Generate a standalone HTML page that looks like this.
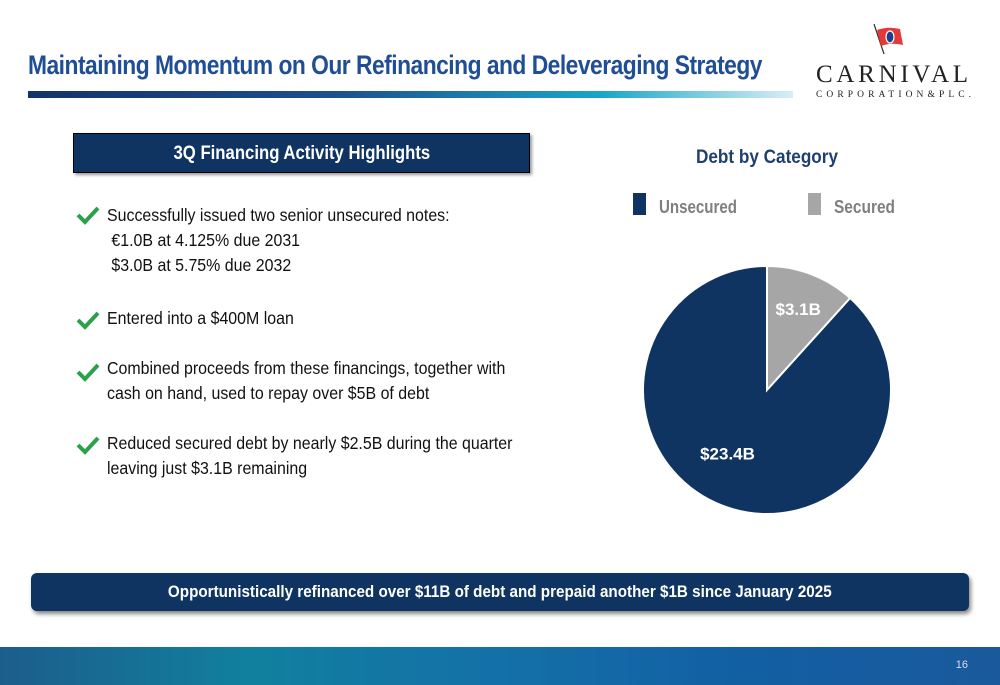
<!DOCTYPE html>
<html><head><meta charset="utf-8">
<style>
body{margin:0;width:1000px;height:685px;position:relative;background:#fff;overflow:hidden;font-family:"Liberation Sans",sans-serif;}
.abs{position:absolute;}
.title{left:28px;top:50px;font-size:27px;font-weight:bold;color:#1f4e96;letter-spacing:-0.6px;white-space:nowrap;transform:scaleX(0.845);transform-origin:left top;}
.hbar{left:28px;top:91px;width:765px;height:7px;background:linear-gradient(90deg,#14336a 0%,#1d4f8f 40%,#1aa6c8 75%,#d8eef6 100%);}
.box{left:73px;top:133px;width:457px;height:40px;background:#0f3461;border:1px solid #000;box-sizing:border-box;color:#fff;font-weight:bold;font-size:19px;text-align:center;line-height:40px;box-shadow:2px 2px 3px #999;}
.box span{display:inline-block;transform:scaleX(0.88);}
.item{left:107px;font-size:17.5px;color:#111;line-height:25px;white-space:nowrap;transform:scaleX(0.91);transform-origin:left top;}
.chk{left:76px;}
.foot{left:31px;top:573px;width:938px;height:38px;background:#0f3461;border-radius:6px;color:#fff;font-weight:bold;font-size:17px;text-align:center;line-height:38px;box-shadow:2px 3px 4px #888;}
.foot span{display:inline-block;transform:scaleX(0.895);white-space:nowrap;}
.band{left:0;top:647px;width:1000px;height:38px;background:linear-gradient(90deg,#1c5d8c 0%,#11809e 25%,#1470a8 50%,#125fa2 75%,#1a5a9c 100%);}
</style></head><body>
<div class="abs title">Maintaining Momentum on Our Refinancing and Deleveraging Strategy</div>
<div class="abs hbar"></div>
<div class="abs" style="left:808px;top:20px;width:180px;height:85px">
<svg width="180" height="85"><line x1="66" y1="4" x2="76" y2="34" stroke="#333" stroke-width="1.2"/>
<path d="M69 10 Q80 6 92 9 L95 25 Q84 22 73 26 Z" fill="#e23a3a"/><ellipse cx="82" cy="17" rx="4" ry="6" fill="#1b3f8c" stroke="#fff" stroke-width="1.2"/>
<text x="8" y="62" font-family="Liberation Serif,serif" font-size="25" textLength="152" lengthAdjust="spacing" fill="#222">CARNIVAL</text>
<text x="8" y="77" font-family="Liberation Serif,serif" font-size="9.5" textLength="155" lengthAdjust="spacing" fill="#222">CORPORATION&amp;PLC.</text></svg></div>

<div class="abs box"><span>3Q Financing Activity Highlights</span></div>

<svg class="abs chk" style="top:205px" width="24" height="20"><path d="M2 10 L9 17 L22 3" stroke="#2aa14a" stroke-width="4" fill="none"/></svg>
<div class="abs item" style="top:203px">Successfully issued two senior unsecured notes:<br>&nbsp;€1.0B at 4.125% due 2031<br>&nbsp;$3.0B at 5.75% due 2032</div>
<svg class="abs chk" style="top:310px" width="24" height="20"><path d="M2 10 L9 17 L22 3" stroke="#2aa14a" stroke-width="4" fill="none"/></svg>
<div class="abs item" style="top:306px">Entered into a $400M loan</div>
<svg class="abs chk" style="top:362px" width="24" height="20"><path d="M2 10 L9 17 L22 3" stroke="#2aa14a" stroke-width="4" fill="none"/></svg>
<div class="abs item" style="top:356px">Combined proceeds from these financings, together with<br>cash on hand, used to repay over $5B of debt</div>
<svg class="abs chk" style="top:435px" width="24" height="20"><path d="M2 10 L9 17 L22 3" stroke="#2aa14a" stroke-width="4" fill="none"/></svg>
<div class="abs item" style="top:431px">Reduced secured debt by nearly $2.5B during the quarter<br>leaving just $3.1B remaining</div>

<svg id="pie" class="abs" style="left:600px;top:130px" width="330" height="400"></svg>

<div class="abs foot"><span>Opportunistically refinanced over $11B of debt and prepaid another $1B since January 2025</span></div>
<div class="abs band"><span class="abs" style="right:32px;top:12px;font-size:11px;color:#dde">16</span></div>

<script>
const categories=["Secured","Unsecured"];
const values=[3.1,23.4];
const labels=["$3.1B","$23.4B"];
const colors=["#a6a6a6","#0f3461"];
const svg=document.getElementById('pie');
const NS="http://www.w3.org/2000/svg";
function mk(t,a){const e=document.createElementNS(NS,t);for(const k in a)e.setAttribute(k,a[k]);return e;}
const cx=167,cy=260,r=124;
let t=document.createElementNS(NS,'text');
t.setAttribute('x',167);t.setAttribute('y',33);t.setAttribute('text-anchor','middle');t.setAttribute('font-size','19');t.setAttribute('font-weight','bold');t.setAttribute('fill','#1f3f6e');t.setAttribute('textLength','142');t.setAttribute('lengthAdjust','spacingAndGlyphs');t.textContent='Debt by Category';


svg.appendChild(t);
const legX=[33,208];const legOrder=[1,0];
legOrder.forEach((ci,i)=>{
 const g=document.createElementNS(NS,'g');
 
 
 g.appendChild(mk('rect',{x:legX[i],y:63,width:13,height:22,fill:colors[ci]}));
 const tx=mk('text',{x:legX[i]+26,y:83,'font-size':'18','font-weight':'bold',fill:'#7f7f7f',textLength:ci===1?78:61,lengthAdjust:'spacingAndGlyphs'});
 tx.textContent=categories[ci];g.appendChild(tx);svg.appendChild(g);
});
const total=values.reduce((a,b)=>a+b,0);
let a0=0;
values.forEach((v,i)=>{
 const a1=a0+v/total*2*Math.PI;
 const p=(a)=>[cx+r*Math.sin(a),cy-r*Math.cos(a)];
 const [x0,y0]=p(a0),[x1,y1]=p(a1);
 const path=mk('path',{d:`M${cx},${cy} L${x0},${y0} A${r},${r} 0 ${a1-a0>Math.PI?1:0} 1 ${x1},${y1} Z`,fill:colors[i],stroke:'#fff','stroke-width':2});
 
 
 svg.appendChild(path);
 const mid=(a0+a1)/2, lr=i===0?0.7:0.55;
 const lx=cx+r*lr*Math.sin(mid)+(i===0?0:-15), ly=cy-r*lr*Math.cos(mid);
 const lt=mk('text',{x:lx,y:ly+6,'text-anchor':'middle','font-size':'17','font-weight':'bold',fill:'#fff'});
 lt.textContent=labels[i];
 
 
 svg.appendChild(lt);
 a0=a1;
});
</script>
</body></html>
